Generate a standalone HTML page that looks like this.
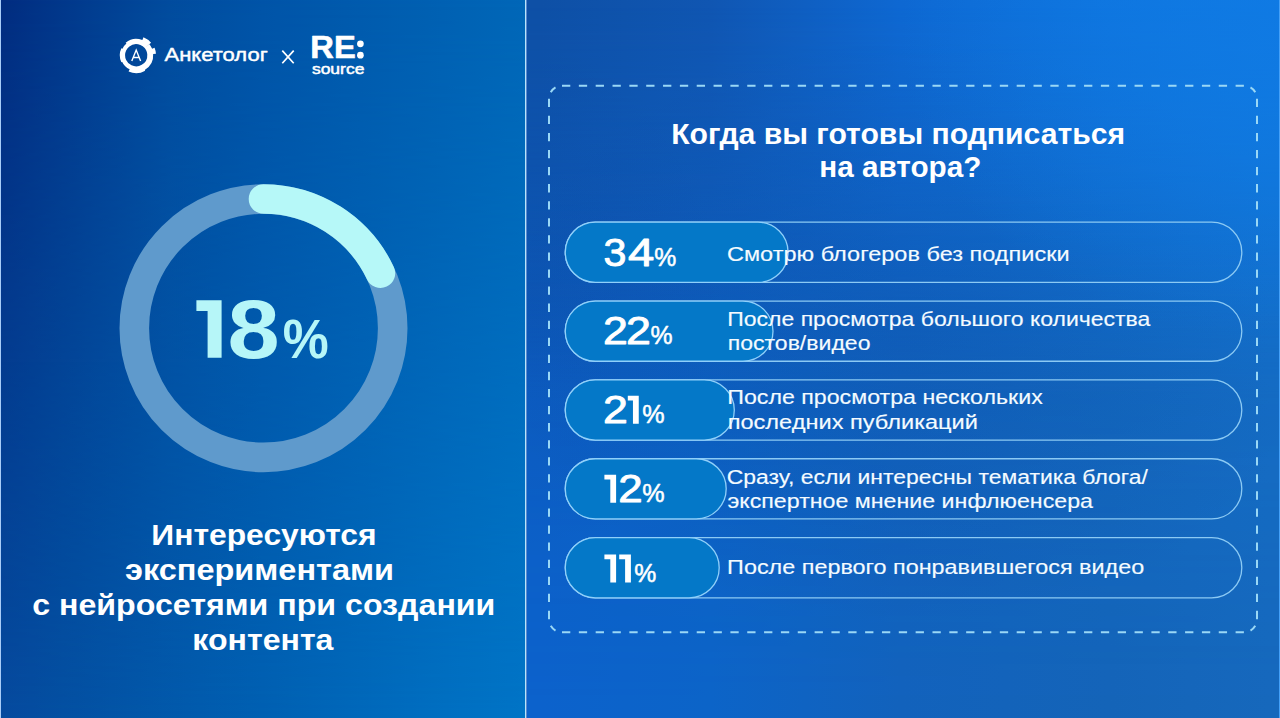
<!DOCTYPE html>
<html><head><meta charset="utf-8">
<style>
html,body{margin:0;padding:0;width:1280px;height:718px;overflow:hidden;background:#0e5cb8;}
body{position:relative;font-family:"Liberation Sans",sans-serif;}
.abs{position:absolute;}
svg text{font-family:"Liberation Sans",sans-serif;}
</style></head><body>
<div class="abs" style="left:0;top:0;width:525px;height:718px;background:linear-gradient(to right,#022c80 0%,#024c9e 32%,#0054a8 50%,#0067b8 100%);"></div>
<div class="abs" style="left:0;top:0;width:525px;height:718px;background:linear-gradient(to right,#054a9e 0%,#0350a2 12%,#0060b2 50%,#006fc1 85%,#0074c6 100%);-webkit-mask-image:linear-gradient(to bottom,transparent,#000);mask-image:linear-gradient(to bottom,transparent,#000);"></div>
<div class="abs" style="left:526px;top:0;width:754px;height:718px;background:linear-gradient(to right,#0e50a6 1.9%,#1056b2 24.4%,#0e68d2 49.6%,#0e74de 77.5%,#0e7ae2 98.7%);"></div>
<div class="abs" style="left:526px;top:0;width:754px;height:718px;background:linear-gradient(to right,#0c62cc 1.9%,#0c64c8 24.4%,#1262bc 49.6%,#1464b8 77.5%,#1668bc 98.7%);-webkit-mask-image:linear-gradient(to bottom,transparent 1%,rgba(0,0,0,0.3) 25%,rgba(0,0,0,0.8) 55%,#000 98%);mask-image:linear-gradient(to bottom,transparent 1%,rgba(0,0,0,0.3) 25%,rgba(0,0,0,0.8) 55%,#000 98%);"></div>
<div class="abs" style="left:526px;top:0;width:754px;height:718px;background:radial-gradient(ellipse 420px 300px at 380px 330px,rgba(8,30,90,0.10) 0%,rgba(8,30,90,0) 100%),radial-gradient(ellipse 200px 260px at 0px 300px,rgba(8,30,90,0.08) 0%,rgba(8,30,90,0) 100%);"></div>
<div class="abs" style="left:526px;top:0;width:754px;height:718px;background:radial-gradient(ellipse 380px 300px at 754px 40px,rgba(16,122,228,0.75) 0%,rgba(16,122,228,0.4) 50%,rgba(16,122,228,0) 100%);"></div>
<div class="abs" style="left:0;top:0;width:1px;height:718px;background:#a8ccf8;"></div>
<div class="abs" style="left:1279px;top:0;width:1px;height:718px;background:#44a0f8;"></div>
<div class="abs" style="left:525px;top:0;width:1px;height:718px;background:#b8e4fa;"></div>
<div class="abs" style="left:526px;top:0;width:1px;height:718px;background:#5a8ad0;"></div>
<svg class="abs" style="left:0;top:0" width="1280" height="718" viewBox="0 0 1280 718">
<circle cx="263.5" cy="328.2" r="129.2" fill="none" stroke="#5f9acc" stroke-width="29.6"/>
<path d="M 263.5 199.00 A 129.2 129.2 0 0 1 380.40 273.19" fill="none" stroke="#b6f8f8" stroke-width="29.6" stroke-linecap="round"/>
<path d="M562 85.75H1244M562 632.25H1244" stroke="#9ad8f6" stroke-width="2" fill="none" stroke-dasharray="8.3 8.54"/>
<path d="M549 98.75V619.25M1257 98.75V619.25" stroke="#9ad8f6" stroke-width="2" fill="none" stroke-dasharray="8.3 8.77"/>
<path d="M550.74 92.25A13 13 0 0 1 555.50 87.49M1250.50 87.49A13 13 0 0 1 1255.26 92.25M1255.26 625.75A13 13 0 0 1 1250.50 630.51M555.50 630.51A13 13 0 0 1 550.74 625.75" stroke="#9ad8f6" stroke-width="2" fill="none"/>
<rect x="565.25" y="222.2" width="676.55" height="60.2" rx="30.1" fill="none" stroke="#8ccaf4" stroke-width="1.3"/>
<rect x="565.25" y="222.2" width="222.85" height="60.2" rx="30.1" fill="#0478c8" stroke="#90d0fa" stroke-width="1.3"/>
<rect x="565.25" y="301.05" width="676.55" height="60.2" rx="30.1" fill="none" stroke="#8ccaf4" stroke-width="1.3"/>
<rect x="565.25" y="301.05" width="207.75" height="60.2" rx="30.1" fill="#0478c8" stroke="#90d0fa" stroke-width="1.3"/>
<rect x="565.25" y="379.9" width="676.55" height="60.2" rx="30.1" fill="none" stroke="#8ccaf4" stroke-width="1.3"/>
<rect x="565.25" y="379.9" width="169.05" height="60.2" rx="30.1" fill="#0478c8" stroke="#90d0fa" stroke-width="1.3"/>
<rect x="565.25" y="458.75" width="676.55" height="60.2" rx="30.1" fill="none" stroke="#8ccaf4" stroke-width="1.3"/>
<rect x="565.25" y="458.75" width="160.95" height="60.2" rx="30.1" fill="#0478c8" stroke="#90d0fa" stroke-width="1.3"/>
<rect x="565.25" y="537.6" width="676.55" height="60.2" rx="30.1" fill="none" stroke="#8ccaf4" stroke-width="1.3"/>
<rect x="565.25" y="537.6" width="153.95" height="60.2" rx="30.1" fill="#0478c8" stroke="#90d0fa" stroke-width="1.3"/>
<g id="logo">
<path d="M125.66 42.64A16.4 16.4 0 0 1 142.34 39.99L140.36 44.91A11.1 11.1 0 0 0 129.07 46.70ZM143.47 37.21A19.4 19.4 0 0 1 151.06 42.73L144.70 48.07A11.1 11.1 0 0 0 140.36 44.91ZM149.38 44.14A17.2 17.2 0 0 1 152.15 48.76L146.49 51.04A11.1 11.1 0 0 0 144.70 48.07ZM154.56 47.78A19.8 19.8 0 0 1 155.95 53.82L147.27 54.43A11.1 11.1 0 0 0 146.49 51.04ZM153.16 54.01A17.0 17.0 0 0 1 144.70 69.92L141.75 64.81A11.1 11.1 0 0 0 147.27 54.43ZM145.20 70.79A18.0 18.0 0 0 1 128.59 71.51L131.51 65.26A11.1 11.1 0 0 0 141.75 64.81ZM129.61 69.34A15.6 15.6 0 0 1 122.06 61.79L126.14 59.89A11.1 11.1 0 0 0 131.51 65.26ZM121.34 62.13A16.4 16.4 0 0 1 121.34 48.27L126.14 50.51A11.1 11.1 0 0 0 126.14 59.89ZM122.42 48.78A15.2 15.2 0 0 1 126.43 43.56L129.07 46.70A11.1 11.1 0 0 0 126.14 50.51Z" fill="#fff"/>
<path d="M131.80 60.90L136.20 50.10L140.60 60.90M133.30 57.50H139.10" fill="none" stroke="#fff" stroke-width="1.4"/>
<path d="M282.3 50.6L293.7 63.2M293.7 50.6L282.3 63.2" stroke="#fff" stroke-width="1.7" fill="none"/>
</g>
<text transform="translate(164.53,61.38) scale(1.1518,1)" font-size="19.11" font-weight="normal" fill="#fff" stroke="#fff" stroke-width="0.45" stroke-linejoin="round">Анкетолог</text>
<text transform="translate(310.34,58.10) scale(1.0307,1)" font-size="31.69" font-weight="bold" fill="#fff" stroke="#fff" stroke-width="0.6" stroke-linejoin="round">RE</text>
<circle cx="360.4" cy="43.8" r="3.35" fill="#fff"/><circle cx="360.4" cy="55.2" r="3.35" fill="#fff"/>
<text transform="translate(311.90,73.65) scale(1.1398,1)" font-size="15.34" font-weight="normal" fill="#fff" stroke="#fff" stroke-width="0.5" stroke-linejoin="round">source</text>
<path d="M207.60 300.30H221.60V357.70H207.60V311.10H196.40V300.30Z" fill="#b6f6f8"/>
<text transform="translate(227.59,357.70) scale(1.1243,1)" font-size="83.43" font-weight="bold" fill="#b6f6f8" >8</text>
<text transform="translate(282.77,358.00) scale(0.9342,1)" font-size="55.29" font-weight="bold" fill="#b6f6f8" >%</text>
<text transform="translate(151.29,544.70) scale(1.0613,1)" font-size="30.00" font-weight="bold" fill="#fff" >Интересуются</text>
<text transform="translate(124.95,579.80) scale(1.0833,1)" font-size="30.00" font-weight="bold" fill="#fff" >экспериментами</text>
<text transform="translate(32.14,614.60) scale(1.0722,1)" font-size="30.00" font-weight="bold" fill="#fff" >с нейросетями при создании</text>
<text transform="translate(192.37,649.80) scale(1.0701,1)" font-size="30.00" font-weight="bold" fill="#fff" >контента</text>
<text transform="translate(671.19,143.75) scale(1.0503,1)" font-size="28.70" font-weight="bold" fill="#fff" >Когда вы готовы подписаться</text>
<text transform="translate(819.22,176.60) scale(1.0342,1)" font-size="28.70" font-weight="bold" fill="#fff" >на автора?</text>
<text transform="translate(603.61,266.25) scale(1.0466,1)" font-size="39.39" font-weight="normal" fill="#fff" stroke="#fff" stroke-width="0.9" stroke-linejoin="round">3</text>
<text transform="translate(628.10,266.25) scale(1.1997,1)" font-size="39.39" font-weight="normal" fill="#fff" stroke="#fff" stroke-width="0.9" stroke-linejoin="round">4</text>
<text transform="translate(654.31,266.45) scale(0.9546,1)" font-size="26.00" font-weight="normal" fill="#fff" stroke="#fff" stroke-width="0.5" stroke-linejoin="round">%</text>
<text transform="translate(603.02,344.25) scale(1.1342,1)" font-size="39.39" font-weight="normal" fill="#fff" stroke="#fff" stroke-width="0.9" stroke-linejoin="round">2</text>
<text transform="translate(626.01,344.25) scale(1.1369,1)" font-size="39.39" font-weight="normal" fill="#fff" stroke="#fff" stroke-width="0.9" stroke-linejoin="round">2</text>
<text transform="translate(650.41,344.45) scale(0.9546,1)" font-size="26.00" font-weight="normal" fill="#fff" stroke="#fff" stroke-width="0.5" stroke-linejoin="round">%</text>
<text transform="translate(603.02,423.25) scale(1.1342,1)" font-size="39.39" font-weight="normal" fill="#fff" stroke="#fff" stroke-width="0.9" stroke-linejoin="round">2</text>
<path d="M632.95 395.70H638.75V423.70H632.95V400.50H627.80V395.70Z" fill="#fff"/>
<text transform="translate(642.19,423.45) scale(0.9685,1)" font-size="26.00" font-weight="normal" fill="#fff" stroke="#fff" stroke-width="0.5" stroke-linejoin="round">%</text>
<path d="M610.30 474.70H616.10V502.70H610.30V479.50H604.40V474.70Z" fill="#fff"/>
<text transform="translate(618.25,502.25) scale(1.1148,1)" font-size="39.39" font-weight="normal" fill="#fff" stroke="#fff" stroke-width="0.9" stroke-linejoin="round">2</text>
<text transform="translate(642.19,502.45) scale(0.9685,1)" font-size="26.00" font-weight="normal" fill="#fff" stroke="#fff" stroke-width="0.5" stroke-linejoin="round">%</text>
<path d="M610.30 554.50H616.10V582.50H610.30V559.30H604.40V554.50Z" fill="#fff"/>
<path d="M625.10 554.50H630.90V582.50H625.10V559.30H619.20V554.50Z" fill="#fff"/>
<text transform="translate(634.31,582.25) scale(0.9546,1)" font-size="26.00" font-weight="normal" fill="#fff" stroke="#fff" stroke-width="0.5" stroke-linejoin="round">%</text>
<text transform="translate(726.95,260.62) scale(1.1541,1)" font-size="20.38" font-weight="normal" fill="#f4fbff" stroke="#f4fbff" stroke-width="0.15" stroke-linejoin="round">Смотрю блогеров без подписки</text>
<text transform="translate(727.23,326.03) scale(1.1293,1)" font-size="20.38" font-weight="normal" fill="#f4fbff" stroke="#f4fbff" stroke-width="0.15" stroke-linejoin="round">После просмотра большого количества</text>
<text transform="translate(727.69,350.32) scale(1.1314,1)" font-size="20.38" font-weight="normal" fill="#f4fbff" stroke="#f4fbff" stroke-width="0.15" stroke-linejoin="round">постов/видео</text>
<text transform="translate(727.22,404.12) scale(1.1384,1)" font-size="20.38" font-weight="normal" fill="#f4fbff" stroke="#f4fbff" stroke-width="0.15" stroke-linejoin="round">После просмотра нескольких</text>
<text transform="translate(727.66,428.68) scale(1.1577,1)" font-size="20.38" font-weight="normal" fill="#f4fbff" stroke="#f4fbff" stroke-width="0.15" stroke-linejoin="round">последних публикаций</text>
<text transform="translate(726.73,483.53) scale(1.1252,1)" font-size="20.38" font-weight="normal" fill="#f4fbff" stroke="#f4fbff" stroke-width="0.15" stroke-linejoin="round">Сразу, если интересны тематика блога/</text>
<text transform="translate(727.41,507.82) scale(1.1396,1)" font-size="20.38" font-weight="normal" fill="#f4fbff" stroke="#f4fbff" stroke-width="0.15" stroke-linejoin="round">экспертное мнение инфлюенсера</text>
<text transform="translate(727.10,573.67) scale(1.1478,1)" font-size="20.38" font-weight="normal" fill="#f4fbff" stroke="#f4fbff" stroke-width="0.15" stroke-linejoin="round">После первого понравившегося видео</text>
</svg>
</body></html>
